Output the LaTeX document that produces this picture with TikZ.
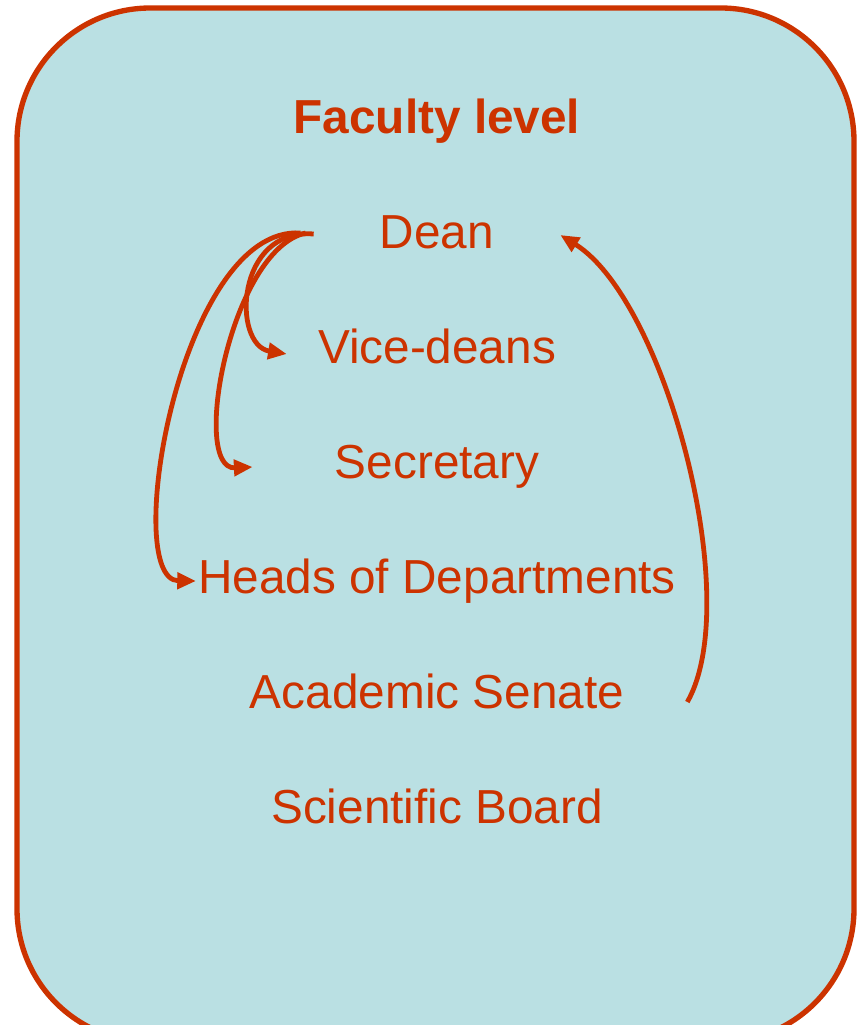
\documentclass[tikz,border=0pt]{standalone}
\usepackage{fontspec}
\setmainfont{Liberation Sans}
\usetikzlibrary{arrows.meta,calc}
\definecolor{fgred}{RGB}{204,51,0}
\definecolor{bgcyan}{RGB}{186,224,227}
\tikzset{
  lbl/.style={anchor=base, inner sep=0pt, text=fgred, font=\fontsize{35.8pt}{42pt}\selectfont},
  ttl/.style={lbl, font=\fontsize{35.8pt}{42pt}\selectfont\bfseries},
  conn/.style={draw=fgred, line width=3.6pt, -{Triangle[length=14pt,width=12pt]}},
  frame/.style={draw=fgred, fill=bgcyan, line width=4pt, rounded corners=100pt}
}
\begin{document}
\begin{tikzpicture}[x=0.75pt, y=-0.75pt]
\useasboundingbox (0,0) rectangle (857,1025);
\begin{scope}
\clip (0,0) rectangle (857,1025);
\path[frame] (17,8) rectangle (854,1042);
\end{scope}
\node[ttl] (title) at (437,133) {Faculty level};
\node[lbl] (dean) at (437,248) {Dean};
\node[lbl] (vice) at (437,363) {Vice-deans};
\node[lbl] (secr) at (437,478) {Secretary};
\node[lbl] (heads) at (437,593) {Heads of Departments};
\node[lbl] (senate) at (437,708) {Academic Senate};
\node[lbl] (board) at (437,823) {Scientific Board};
\draw[conn] ($(dean.base west)+(-66,-14)$) .. controls (235,228) and (232,345) .. ($(vice.base west)+(-31,-9)$);
\draw[conn] ($(dean.base west)+(-74,-15)$) .. controls (230,250) and (190,470) .. ($(secr.base west)+(-82,-11)$);
\draw[conn] ($(dean.base west)+(-79,-15)$) .. controls (180,225) and (120,580) .. ($(heads.base west)+(-2,-12)$);
\draw[conn] ($(senate.base east)+(63,-6)$) .. controls (745,600) and (665,300) .. ($(dean.base east)+(66,-13)$);
\end{tikzpicture}
\end{document}
